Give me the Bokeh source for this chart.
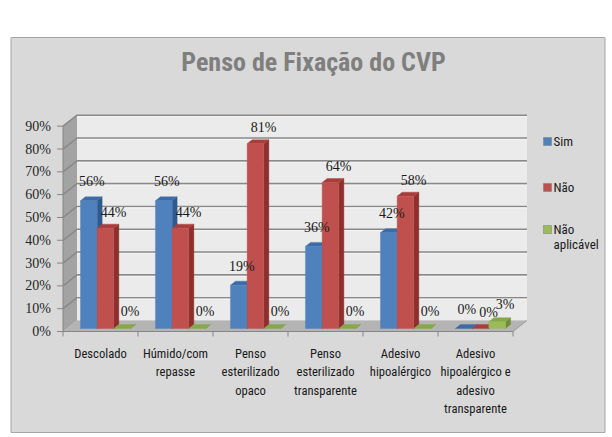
import textwrap
from bokeh.plotting import figure
from bokeh.models import Range1d, ColumnDataSource
from bokeh.core.properties import value
from bokeh.embed import file_html
from bokeh.resources import INLINE

# ---------------- data ----------------
title = "Penso de Fixação do CVP"
categories = [
    "Descolado",
    "Húmido/com\nrepasse",
    "Penso\nesterilizado\nopaco",
    "Penso\nesterilizado\ntransparente",
    "Adesivo\nhipoalérgico",
    "Adesivo\nhipoalérgico e\nadesivo\ntransparente",
]
series_names = ["Sim", "Não", "Não aplicável"]
sim = [56, 56, 19, 36, 42, 0]
nao = [44, 44, 81, 64, 58, 0]
nao_aplicavel = [0, 0, 0, 0, 0, 3]
y_ticks = [0, 10, 20, 30, 40, 50, 60, 70, 80, 90]

series_values = [sim, nao, nao_aplicavel]

# ---------------- styles ----------------
front_colors = ["#4f81bd", "#c0504d", "#9bbb59"]
side_colors = ["#2f5a8e", "#8c2f2d", "#6f8c38"]
top_colors = ["#3c6ca6", "#a83e3b", "#86a84a"]
legend_colors = ["#4f81bd", "#c0504d", "#9bbb59"]

W, H = 612, 437
CX0, CW = 100.0, 75.0     # px centre of first category, px per category
Y0, SY = 331.0, 2.281     # px of 0 %, px per 1 %


def X(px):
    return (px - CX0) / CW


def Yd(py):
    return (Y0 - py) / SY


def DX(px):
    return px / CW


def DY(px):  # px upward
    return px / SY


SANS = "Roboto Condensed"
SERIF = "Liberation Serif"

p = figure(width=W, height=H, x_range=Range1d(X(0), X(W)), y_range=Range1d(Yd(H), Yd(0)),
           output_backend="svg", toolbar_location=None, min_border=0,
           x_axis_location=None, y_axis_location=None)
p.grid.visible = False
p.outline_line_color = None
p.background_fill_color = "white"
p.border_fill_color = "white"

# chart area
p.quad(left=X(10.5), right=X(604.5), top=Yd(37), bottom=Yd(432),
       fill_color="#d9d9d9", line_color="#a6a6a6", line_width=1)

# title
p.text(x=[X(313)], y=[Yd(61)], text=[title], text_align="center", text_baseline="middle",
       text_font=value(SANS), text_font_style="bold", text_font_size="26px", text_color="#7f7f7f")

n = len(categories)
xL, xR = -0.5, n - 0.5
vmax = y_ticks[-1]
wdx, wdy = DX(14), DY(11)

# walls & floor
p.quad(left=xL + wdx, right=xR + wdx, bottom=wdy, top=vmax + wdy,
       fill_color="#ebebeb", line_color=None)
p.patch([xL, xL, xL + wdx, xL + wdx], [0, vmax, vmax + wdy, wdy],
        fill_color="#a3a3a3", line_color=None)
p.patch([xL, xR, xR + wdx, xL + wdx], [0, 0, wdy, wdy],
        fill_color="#b4b4b4", line_color=None)

# gridlines
gx, gy = [], []
for v in y_ticks[1:]:
    gx.append([xL, xL + wdx, xR + wdx])
    gy.append([v, v + wdy, v + wdy])
p.multi_line(gx, gy, line_color="#8a8a8a", line_width=1.6)
gx2, gy2 = [], []
for v in y_ticks[1:]:
    gx2.append([xL + wdx, xR + wdx])
    gy2.append([v + wdy - DY(1.5), v + wdy - DY(1.5)])
p.multi_line(gx2, gy2, line_color="#f4f4f4", line_width=1)

# axes
p.line([xL, xL], [0, vmax], line_color="#868686", line_width=1)
p.line([xL, xR], [0, 0], line_color="#868686", line_width=1)
p.line([xR, xR + wdx], [0, wdy], line_color="#9a9a9a", line_width=1)
p.segment(x0=[xL - DX(6)] * len(y_ticks), x1=[xL] * len(y_ticks), y0=y_ticks, y1=y_ticks,
          line_color="#868686", line_width=1)
p.segment(x0=[xL + k for k in range(n + 1)], x1=[xL + k for k in range(n + 1)],
          y0=[0] * (n + 1), y1=[-DY(5)] * (n + 1), line_color="#868686", line_width=1)

# y tick labels
p.text(x=[X(50.5)] * len(y_ticks), y=y_ticks, text=[f"{v}%" for v in y_ticks],
       text_align="right", text_baseline="middle", text_font=value(SERIF),
       text_font_size="14px", text_color="#262626")

# bars (3D)
BW = DX(16.7)
bdx, bdy = DX(5), DY(3)
ddx, ddy = DX(5), DY(4)
xs, ys, cols = [], [], []
lx, ly, lt = [], [], []
label_dx = [3, 8, 8]
label_dy = [19, 16, 17]
for i in range(n):
    for s, vals in enumerate(series_values):
        v = vals[i]
        x0 = i - 1.5 * BW + s * BW + bdx
        x1 = x0 + BW
        y0 = bdy
        y1 = bdy + v
        xs.append([x1, x1 + ddx, x1 + ddx, x1]); ys.append([y0, y0 + ddy, y1 + ddy, y1]); cols.append(side_colors[s])
        xs.append([x0, x1, x1 + ddx, x0 + ddx]); ys.append([y1, y1, y1 + ddy, y1 + ddy]); cols.append(top_colors[s])
        if v > 0:
            xs.append([x0, x1, x1, x0]); ys.append([y0, y0, y1, y1]); cols.append(front_colors[s])
        lx.append((x0 + x1) / 2 + DX(label_dx[s]))
        ly.append(y1 + DY(label_dy[s]))
        lt.append(f"{v}%")
src = ColumnDataSource(dict(xs=xs, ys=ys, c=cols))
p.patches("xs", "ys", source=src, fill_color="c", line_color="c", line_width=0.4)

p.text(x=lx, y=ly, text=lt, text_align="center", text_baseline="middle",
       text_font=value(SERIF), text_font_size="14px", text_color="#1a1a1a")

# category labels
cx, cy, ct = [], [], []
for i, c in enumerate(categories):
    for k, line in enumerate(c.split("\n")):
        cx.append(i)
        cy.append(Yd(353 + 18.3 * k))
        ct.append(line)
p.text(x=cx, y=cy, text=ct, text_align="center", text_baseline="middle",
       text_font=value(SANS), text_font_size="12.6px", text_color="#1a1a1a")

# legend
leg_y = [141, 187, 229]
sx, sy, sc = [], [], []
tx, ty, tt = [], [], []
for s, name in enumerate(series_names):
    sx.append(X(547)); sy.append(Yd(leg_y[s])); sc.append(legend_colors[s])
    for k, line in enumerate(textwrap.wrap(name, 10)):
        tx.append(X(553)); ty.append(Yd(leg_y[s] + 15 * k)); tt.append(line)
p.rect(x=sx, y=sy, width=DX(8), height=DY(8), fill_color=sc, line_color="#7a7a7a", line_width=0.5)
p.text(x=tx, y=ty, text=tt, text_align="left", text_baseline="middle",
       text_font=value(SANS), text_font_size="13px", text_color="#1a1a1a")

open("out.html", "w").write(file_html(p, INLINE))
